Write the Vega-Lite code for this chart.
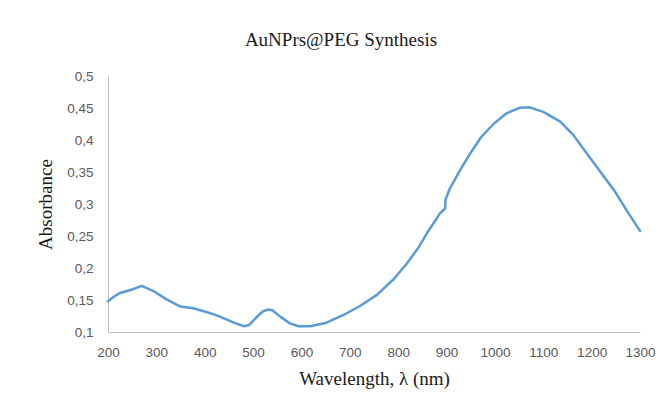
{
  "$schema": "https://vega.github.io/schema/vega-lite/v6.json",
  "width": 532,
  "height": 256,
  "autosize": {"type": "none"},
  "padding": {"left": 108, "top": 76, "right": 24, "bottom": 74},
  "background": "white",
  "title": {
    "text": "AuNPrs@PEG Synthesis",
    "font": "Liberation Serif",
    "fontSize": 19,
    "fontWeight": "normal",
    "color": "#1a1a1a",
    "anchor": "middle",
    "dx": -33,
    "offset": 19
  },
  "data": {
    "values": [
      {"wl": 200, "abs": 0.148},
      {"wl": 212, "abs": 0.155},
      {"wl": 225, "abs": 0.161},
      {"wl": 248, "abs": 0.166},
      {"wl": 270, "abs": 0.172},
      {"wl": 294, "abs": 0.164},
      {"wl": 321, "abs": 0.151},
      {"wl": 349, "abs": 0.140},
      {"wl": 376, "abs": 0.137},
      {"wl": 400, "abs": 0.132},
      {"wl": 425, "abs": 0.126},
      {"wl": 459, "abs": 0.115},
      {"wl": 481, "abs": 0.109},
      {"wl": 492, "abs": 0.111},
      {"wl": 507, "abs": 0.123},
      {"wl": 520, "abs": 0.132},
      {"wl": 530, "abs": 0.135},
      {"wl": 540, "abs": 0.134},
      {"wl": 556, "abs": 0.124},
      {"wl": 576, "abs": 0.1135},
      {"wl": 594, "abs": 0.109},
      {"wl": 618, "abs": 0.109},
      {"wl": 652, "abs": 0.1146},
      {"wl": 687, "abs": 0.1266},
      {"wl": 721, "abs": 0.1406},
      {"wl": 756, "abs": 0.158},
      {"wl": 790, "abs": 0.182},
      {"wl": 818, "abs": 0.207},
      {"wl": 842, "abs": 0.232},
      {"wl": 860, "abs": 0.255},
      {"wl": 886, "abs": 0.285},
      {"wl": 897, "abs": 0.293},
      {"wl": 898, "abs": 0.307},
      {"wl": 907, "abs": 0.3245},
      {"wl": 928, "abs": 0.353},
      {"wl": 949, "abs": 0.379},
      {"wl": 972, "abs": 0.405},
      {"wl": 997, "abs": 0.425},
      {"wl": 1024, "abs": 0.4417},
      {"wl": 1052, "abs": 0.4505},
      {"wl": 1072, "abs": 0.451},
      {"wl": 1100, "abs": 0.444},
      {"wl": 1135, "abs": 0.4286},
      {"wl": 1162, "abs": 0.408},
      {"wl": 1190, "abs": 0.379},
      {"wl": 1218, "abs": 0.3505},
      {"wl": 1246, "abs": 0.322},
      {"wl": 1274, "abs": 0.288},
      {"wl": 1300, "abs": 0.258}
    ]
  },
  "mark": {"type": "line", "color": "#5B9BD5", "strokeWidth": 2.5, "strokeCap": "round", "strokeJoin": "round"},
  "encoding": {
    "x": {
      "field": "wl",
      "type": "quantitative",
      "scale": {"domain": [200, 1300], "nice": false, "zero": false},
      "axis": {
        "title": "Wavelength, λ (nm)",
        "values": [200, 300, 400, 500, 600, 700, 800, 900, 1000, 1100, 1200, 1300],
        "labelExpr": "format(datum.value, 'd')",
        "labelOverlap": false,
        "labelFlush": false,
        "grid": false,
        "ticks": false,
        "labelPadding": 13,
        "titlePadding": 11
      }
    },
    "y": {
      "field": "abs",
      "type": "quantitative",
      "scale": {"domain": [0.1, 0.5], "nice": false, "zero": false},
      "axis": {
        "title": "Absorbance",
        "values": [0.1, 0.15, 0.2, 0.25, 0.3, 0.35, 0.4, 0.45, 0.5],
        "labelExpr": "replace(format(datum.value, '.2~f'), '.', ',')",
        "labelOverlap": false,
        "labelFlush": false,
        "grid": false,
        "ticks": false,
        "labelPadding": 15,
        "titlePadding": 11
      }
    }
  },
  "config": {
    "view": {"stroke": null},
    "axis": {
      "domainColor": "#bfbfbf",
      "domainWidth": 1,
      "labelFont": "Liberation Sans",
      "labelFontSize": 13.5,
      "labelColor": "#595959",
      "titleFont": "Liberation Serif",
      "titleFontSize": 19,
      "titleFontWeight": "normal",
      "titleColor": "#1a1a1a"
    }
  }
}
